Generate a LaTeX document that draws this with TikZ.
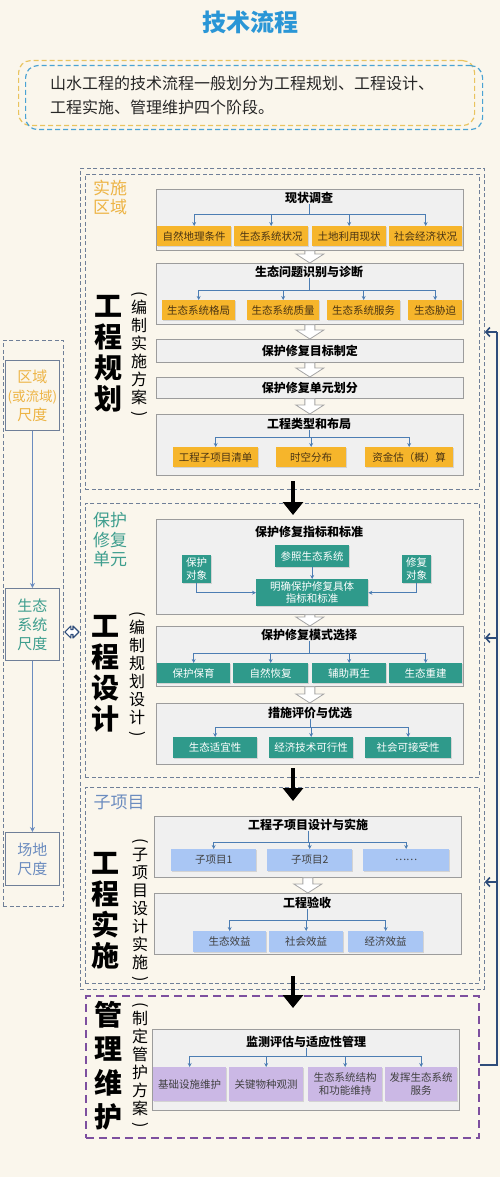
\documentclass[tikz,border=0pt]{standalone}
\usepackage{fontspec}
\setmainfont{Noto Sans CJK SC}
\usetikzlibrary{arrows.meta,shadows,calc}
\definecolor{bgc}{HTML}{FAF6EC}
\definecolor{titleblue}{HTML}{2A96D6}
\definecolor{introy}{HTML}{E9C35E}
\definecolor{introb}{HTML}{4AA3D4}
\definecolor{framec}{HTML}{6F7F98}
\definecolor{purplec}{HTML}{7D4F9F}
\definecolor{boxgray}{HTML}{9C9C9C}
\definecolor{boxfill}{HTML}{F0F0F0}
\definecolor{orangeb}{HTML}{F6B52B}
\definecolor{orangetxt}{HTML}{4A3413}
\definecolor{tealb}{HTML}{2F9A8B}
\definecolor{lblue}{HTML}{A9C6F4}
\definecolor{lpurple}{HTML}{CBB8E5}
\definecolor{branchc}{HTML}{4C7DB3}
\definecolor{fbc}{HTML}{2E4C7A}
\definecolor{lorange}{HTML}{EDB445}
\definecolor{lteal}{HTML}{3E9E8E}
\definecolor{lbluegray}{HTML}{6B8CBF}
\definecolor{holc}{HTML}{A5A5A5}
\newcommand{\myfs}[2]{\fontsize{#1}{#2}\selectfont}
\newcommand{\vlpar}{\rotatebox[origin=c]{-90}{(}}
\newcommand{\vrpar}{\rotatebox[origin=c]{-90}{)}}
\newcommand{\bx}[7]{\node[#1, anchor=north west, minimum width={(#5-#3)*1pt}, minimum height={(#6-#4)*1pt}] (#2) at (#3,#4) {#7};}
\newcommand{\hol}[2]{\draw[holl] let \p1=(#1.south), \p2=(#2.north) in (\x1-5pt,\y1) -- (\x1+5pt,\y1) -- (\x1+5pt,\y2+9pt) -- (\x1+14pt,\y2+9pt) -- (\x1,\y2) -- (\x1-14pt,\y2+9pt) -- (\x1-5pt,\y2+9pt) -- cycle;}
\begin{document}
\begin{tikzpicture}[x=1pt,y=-1pt,
  shd/.style={drop shadow={opacity=0.25, shadow xshift=1pt, shadow yshift=-1pt}},
  gbox/.style={draw=boxgray, fill=boxfill, line width=0.7pt, inner sep=0pt, shd},
  gtbox/.style={gbox, font=\myfs{12}{14}\bfseries},
  ttl/.style={font=\myfs{12}{14}\bfseries, inner sep=0pt},
  obox/.style={fill=orangeb, text=orangetxt, font=\myfs{10.5}{12.5}, align=center, inner sep=0pt, shd},
  tbox/.style={fill=tealb, text=white, font=\myfs{10.5}{12.5}, align=center, inner sep=0pt, shd},
  bbox/.style={fill=lblue, text=black!75, font=\myfs{10.5}{12.5}, align=center, inner sep=0pt, shd},
  pbox/.style={fill=lpurple, text=black!75, font=\myfs{10.5}{12.5}, align=center, inner sep=0pt, shd},
  stg/.style={draw=framec, dash pattern=on 4pt off 2.5pt, line width=0.8pt, inner sep=0pt},
  pstg/.style={draw=purplec, dash pattern=on 8pt off 5pt, line width=1.5pt, inner sep=0pt},
  brl/.style={draw=branchc, line width=0.8pt},
  br/.style={draw=branchc, line width=0.8pt, -{Stealth[length=4pt,width=4pt]}},
  holl/.style={draw=holc, fill=white, line width=0.8pt},
  bigarr/.style={line width=3.5pt, -{Triangle[width=20pt,length=13pt]}},
  fb/.style={draw=fbc, line width=1.6pt},
  fba/.style={draw=fbc, line width=1.6pt, -{Straight Barb[length=4pt,width=9pt]}},
  slab/.style={font=\myfs{17}{19.5}, align=center, inner sep=0pt},
  big/.style={font=\myfs{28}{31}\bfseries, align=center, inner sep=0pt},
  vlab/.style={font=\myfs{16}{18}, align=center, inner sep=0pt},
  scb/.style={draw=framec, line width=0.8pt, font=\myfs{15}{19}, align=center, inner sep=0pt},
  sca/.style={draw=lbluegray, line width=0.8pt, -{Stealth[length=5pt,width=5pt]}},
  dbl/.style={draw=fbc, fill=white, line width=1.1pt, line join=round}
]
\useasboundingbox (0,0) rectangle (500,1177);
\fill[bgc] (0,0) rectangle (500,1177);

% title and intro
\node[font=\myfs{24}{26}\bfseries, text=titleblue, inner sep=0pt] (title) at (250,22) {技术流程};
\bx{draw=introy, dash pattern=on 5pt off 3pt, line width=1.2pt, rounded corners=12pt}{introA}{18}{60}{474}{125}{}
\bx{draw=introb, dash pattern=on 5pt off 3pt, line width=1.2pt, rounded corners=12pt}{introB}{25}{65}{482}{129}{}
\node[anchor=west, align=left, font=\myfs{16}{24}, inner sep=0pt, text=black!85] (intro) at (50,95) {山水工程的技术流程一般划分为工程规划、工程设计、\\工程实施、管理维护四个阶段。};

% frames
\bx{stg}{outer}{80}{168}{484}{989}{}
\bx{stg}{s1}{85}{174}{479}{489}{}
\bx{stg}{s2}{85}{503}{479}{777}{}
\bx{stg}{s3}{85}{787}{479}{983}{}
\bx{pstg}{s4}{85}{995}{478}{1137}{}

% stage labels
\node[slab, text=lorange] (l1) at (110,197.5) {实施\\区域};
\node[slab, text=lteal] (l2) at (110,540) {保护\\修复\\单元};
\node[slab, text=lbluegray] (l3) at (119,802) {子项目};
\node[big] (g1) at (108,353.5) {工\\程\\规\\划};
\node[big] (g2) at (105,673.5) {工\\程\\设\\计};
\node[big] (g3) at (105,911) {工\\程\\实\\施};
\node[big, font=\myfs{28}{34}\bfseries] (g4) at (108,1066) {管\\理\\维\\护};
\node[vlab] (v1) at (139,355) {\vlpar\\[-3pt]编\\制\\实\\施\\方\\案\\[-3pt]\vrpar};
\node[vlab] (v2) at (137,675) {\vlpar\\[-3pt]编\\制\\规\\划\\设\\计\\[-3pt]\vrpar};
\node[vlab] (v3) at (140,911) {\vlpar\\[-3pt]子\\项\\目\\设\\计\\实\\施\\[-3pt]\vrpar};
\node[vlab] (v4) at (140,1066) {\vlpar\\[-3pt]制\\定\\管\\护\\方\\案\\[-3pt]\vrpar};

% ---- stage 1
\bx{gbox}{b11}{156}{189}{463}{250}{}
\node[ttl] (t11) at (309,198) {现状调查};
\coordinate (j11) at (309,214);
\bx{obox}{c111}{157}{226}{231}{246}{自然地理条件}
\bx{obox}{c112}{234}{226}{308}{246}{生态系统状况}
\bx{obox}{c113}{312}{226}{386}{246}{土地利用现状}
\bx{obox}{c114}{389}{226}{462}{246}{社会经济状况}
\draw[brl] (t11.south) -- (j11);
\foreach \c in {c111,c112,c113,c114} \draw[br] (j11) -| (\c.north);

\bx{gbox}{b12}{156}{263}{463}{324}{}
\node[ttl] (t12) at (309,272) {生态问题识别与诊断};
\coordinate (j12) at (309,290);
\bx{obox}{c121}{162}{300}{235}{320}{生态系统格局}
\bx{obox}{c122}{247}{300}{319}{320}{生态系统质量}
\bx{obox}{c123}{327}{300}{400}{320}{生态系统服务}
\bx{obox}{c124}{408}{300}{462}{320}{生态胁迫}
\draw[brl] (t12.south) -- (j12);
\foreach \c in {c121,c122,c123,c124} \draw[br] (j12) -| (\c.north);

\bx{gtbox}{b13}{156}{339}{463}{362}{保护修复目标制定}
\bx{gtbox}{b14}{156}{377}{463}{398}{保护修复单元划分}

\bx{gbox}{b15}{156}{414}{463}{475}{}
\node[ttl] (t15) at (309,424) {工程类型和布局};
\coordinate (j15) at (309,437);
\bx{obox}{c151}{173}{447}{258}{467}{工程子项目清单}
\bx{obox}{c152}{276}{447}{346}{467}{时空分布}
\bx{obox}{c153}{365}{447}{453}{467}{资金估（概）算}
\draw[brl] (t15.south) -- (j15);
\foreach \c in {c151,c152,c153} \draw[br] (j15) -| (\c.north);

\hol{b11}{b12}
\hol{b12}{b13}
\hol{b13}{b14}
\hol{b14}{b15}

% ---- stage 2
\bx{gbox}{b21}{156}{519}{463}{614}{}
\node[ttl] (t21) at (309,532) {保护修复指标和标准};
\bx{tbox}{c21}{182}{555}{211}{583}{保护\\对象}
\bx{tbox}{c22}{275}{545}{349}{567}{参照生态系统}
\bx{tbox}{c23}{402}{555}{431}{583}{修复\\对象}
\bx{tbox}{c24}{256}{579}{368}{606}{明确保护修复具体\\指标和标准}
\draw[br] (c22.south) -- (c22.south |- c24.north);
\draw[br] (c21.south) |- (c24.west);
\draw[br] (c23.south) |- (c24.east);

\bx{gbox}{b22}{156}{626}{463}{686}{}
\node[ttl] (t22) at (309,635) {保护修复模式选择};
\coordinate (j22) at (309,653);
\bx{tbox}{c221}{157}{663}{230}{683}{保护保育}
\bx{tbox}{c222}{233}{663}{308}{683}{自然恢复}
\bx{tbox}{c223}{312}{663}{386}{683}{辅助再生}
\bx{tbox}{c224}{389}{663}{462}{683}{生态重建}
\draw[brl] (t22.south) -- (j22);
\foreach \c in {c221,c222,c223,c224} \draw[br] (j22) -| (\c.north);

\bx{gbox}{b23}{156}{703}{463}{764}{}
\node[ttl] (t23) at (310,713) {措施评价与优选};
\coordinate (j23) at (310,727);
\bx{tbox}{c231}{173}{737}{257}{758}{生态适宜性}
\bx{tbox}{c232}{269}{737}{353}{758}{经济技术可行性}
\bx{tbox}{c233}{365}{737}{451}{758}{社会可接受性}
\draw[brl] (t23.south) -- (j23);
\foreach \c in {c231,c232,c233} \draw[br] (j23) -| (\c.north);

\hol{b21}{b22}
\hol{b22}{b23}

% ---- stage 3
\bx{gbox}{b31}{154}{816}{461}{877}{}
\node[ttl] (t31) at (308,825) {工程子项目设计与实施};
\coordinate (j31) at (308,842);
\bx{bbox}{c311}{171}{849}{256}{871}{子项目1}
\bx{bbox}{c312}{267}{849}{352}{871}{子项目2}
\bx{bbox}{c313}{363}{849}{449}{871}{……}
\draw[brl] (t31.south) -- (j31);
\foreach \c in {c311,c312,c313} \draw[br] (j31) -| (\c.north);

\bx{gbox}{b32}{154}{893}{461}{954}{}
\node[ttl] (t32) at (307,903) {工程验收};
\coordinate (j32) at (307,920);
\bx{bbox}{c321}{193}{931}{266}{952}{生态效益}
\bx{bbox}{c322}{269}{931}{343}{952}{社会效益}
\bx{bbox}{c323}{348}{931}{423}{952}{经济效益}
\draw[brl] (t32.south) -- (j32);
\foreach \c in {c321,c322,c323} \draw[br] (j32) -| (\c.north);

\hol{b31}{b32}

% ---- stage 4
\bx{gbox}{b41}{152}{1029}{459}{1110}{}
\node[ttl] (t41) at (306,1042) {监测评估与适应性管理};
\coordinate (j41) at (306,1056);
\bx{pbox}{c411}{153}{1067}{226}{1101}{基础设施维护}
\bx{pbox}{c412}{229}{1067}{303}{1101}{关键物种观测}
\bx{pbox}{c413}{308}{1067}{382}{1101}{生态系统结构\\和功能维持}
\bx{pbox}{c414}{385}{1067}{457}{1101}{发挥生态系统\\服务}
\draw[brl] (t41.south) -- (j41);
\foreach \c in {c411,c412,c413,c414} \draw[br] (j41) -| (\c.north);

% big black arrows
\coordinate (k1a) at (293,481); \coordinate (k1b) at (293,515);
\coordinate (k2a) at (293,768); \coordinate (k2b) at (293,801);
\coordinate (k3a) at (293,976); \coordinate (k3b) at (293,1008);
\draw[bigarr] (k1a) -- (k1b);
\draw[bigarr] (k2a) -- (k2b);
\draw[bigarr] (k3a) -- (k3b);

% feedback
\coordinate (fr) at (497,1065);
\coordinate (ft) at (497,332);
\draw[fb] (s4.east |- 0,1065) -- (fr) -- (ft);
\draw[fba] (ft) -- (outer.east |- 0,332);
\draw[fba] (497,638) -- (outer.east |- 0,638);
\draw[fba] (497,882) -- (outer.east |- 0,882);

% left scale panel
\bx{stg}{lp}{3}{340}{63}{906}{}
\bx{scb, text=lorange}{sc1}{5}{360}{59}{430}{区域\\{\myfs{13.5}{19}(或流域)}\\尺度}
\bx{scb, text=lteal}{sc2}{5}{588}{59}{660}{生态\\系统\\尺度}
\bx{scb, text=lbluegray}{sc3}{5}{832}{59}{885}{场地\\尺度}
\draw[sca] (sc1.south) -- (sc2.north);
\draw[sca] (sc2.south) -- (sc3.north);
% hollow double arrow between scale panel and stage frames
\draw[dbl] let \p1=(lp.east |- 0,632), \p2=(outer.west |- 0,632) in
  (\x1+1pt,\y1) -- (\x1+7pt,\y1+6pt) -- (\x1+7pt,\y1+2.5pt) -- (\x2-7pt,\y1+2.5pt) -- (\x2-7pt,\y1+6pt)
  -- (\x2-1pt,\y1) -- (\x2-7pt,\y1-6pt) -- (\x2-7pt,\y1-2.5pt) -- (\x1+7pt,\y1-2.5pt) -- (\x1+7pt,\y1-6pt) -- cycle;
\end{tikzpicture}
\end{document}
